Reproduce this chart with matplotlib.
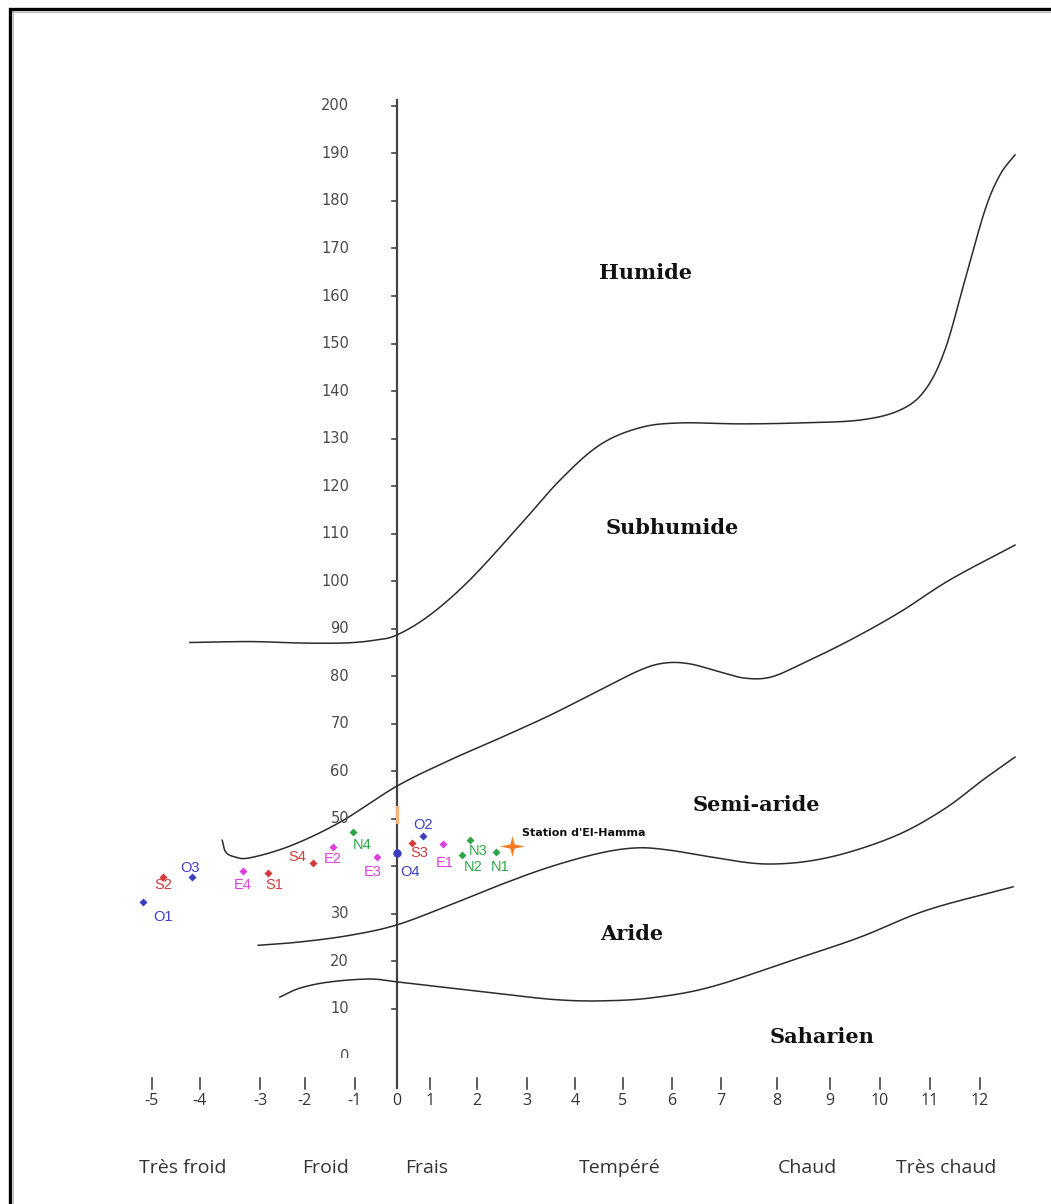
import numpy as np
import matplotlib
matplotlib.use('Agg')
import matplotlib.pyplot as plt
from matplotlib.transforms import blended_transform_factory, Bbox, TransformedBbox

# Emberger climagram: m (mean min temp of coldest month, °C) vs Q2
m_ticks = list(range(-5, 13))
# the m axis is hand ruled, so tick spacing is not uniform (pixel position of each tick)
m_tick_px = [152, 200, 260, 305, 355, 397, 430, 477, 527, 575, 623, 672, 721, 777, 830, 880, 930, 980]
q2_ticks = list(range(0, 201, 10))
q2_labels = ['' if v == 40 else str(v) for v in q2_ticks]

# sampling points
pt_names = ['O1', 'S2', 'O3', 'E4', 'S1', 'S4', 'E2', 'N4', 'E3', 'O4', 'S3', 'O2', 'E1', 'N2', 'N3', 'N1']
pt_m = [-5.19, -4.77, -4.17, -3.28, -2.82, -1.84, -1.44, -1.04, -0.48, 0.0, 0.45, 0.79, 1.28, 1.68, 1.85, 2.38]
pt_q2 = [32.5, 37.8, 37.8, 39.0, 38.6, 40.7, 44.1, 47.2, 42.0, 42.8, 44.9, 46.4, 44.7, 42.4, 45.6, 43.1]

station_name = "Station d'El-Hamma"
station_m = 2.70
station_q2 = 44.3

# bioclimatic limits
lim1_m = [-4.21, -3.17, -2.11, -1.2, -0.52, 0.0, 1.0, 1.85, 2.86, 3.69, 4.52, 5.35, 6.16, 7.34, 8.43, 9.6, 10.4, 10.9, 11.3, 11.7, 12.1, 12.4, 12.7]
lim1_q2 = [87.1, 87.3, 87.0, 87.0, 87.6, 88.7, 92.9, 100.3, 111.8, 121.3, 128.7, 132.3, 133.3, 133.1, 133.3, 133.9, 136.0, 140.2, 148.7, 163.4, 178.1, 185.5, 189.7]

lim2_m = [-3.63, -3.57, -3.42, -3.17, -2.33, -1.3, 0.0, 1.43, 2.46, 3.48, 4.52, 5.35, 5.86, 6.37, 6.98, 7.43, 7.88, 8.43, 9.4, 10.4, 11.4, 12.7]
lim2_q2 = [45.5, 43.0, 42.0, 41.8, 44.3, 49.3, 56.9, 62.4, 67.0, 71.8, 77.1, 81.3, 82.8, 82.6, 80.9, 79.6, 79.8, 82.4, 87.6, 93.5, 100.3, 107.6]

lim3_m = [-3.03, -2.11, -1.1, 0.0, 1.43, 2.46, 3.48, 4.52, 5.29, 5.96, 6.78, 7.82, 8.94, 10.26, 11.26, 12.06, 12.7]
lim3_q2 = [23.4, 24.1, 25.5, 27.7, 31.9, 36.1, 39.9, 42.8, 43.9, 43.4, 42.0, 40.5, 41.8, 46.2, 51.9, 58.2, 63.0]

lim4_m = [-2.56, -2.11, -1.5, -0.64, 0.0, 1.43, 2.86, 3.69, 4.52, 5.55, 6.78, 8.3, 9.6, 10.94, 12.66]
lim4_q2 = [12.5, 14.4, 15.7, 16.3, 15.7, 14.4, 12.7, 11.9, 11.7, 12.3, 14.6, 20.3, 25.1, 30.8, 35.7]

zones = ['Humide', 'Subhumide', 'Semi-aride', 'Aride', 'Saharien']
zone_m = [5.45, 6.0, 7.64, 5.18, 8.85]
zone_q2 = [164.8, 111.2, 52.9, 25.8, 4.1]

winters = ['Très froid', 'Froid', 'Frais', 'Tempéré', 'Chaud', 'Très chaud']
winter_m = [-4.35, -1.58, 0.91, 4.94, 8.57, 11.32]

colors = {'O': '#3d3dc4', 'S': '#d63a3a', 'E': '#e03fe0', 'N': '#2fa64a'}
# label offsets in pixels (dx, dy), dy positive upward
offsets = {'O1': (20, -15), 'S2': (0, -8), 'O3': (-2, 9), 'E4': (-1, -14), 'S1': (6, -12),
           'S4': (-16, 6), 'E2': (0, -12), 'N4': (9, -13), 'E3': (-4, -15), 'O4': (13, -19),
           'S3': (7, -10), 'O2': (0, 11), 'E1': (2, -19), 'N2': (11, -12), 'N3': (8, -11),
           'N1': (4, -15)}

W, H = 1051, 1204
Y_PX = 4.753  # pixels per Q2 unit


def fwd(v):
    v = np.asarray(v, dtype=float)
    out = np.interp(v, m_ticks, m_tick_px)
    out = np.where(v < m_ticks[0], m_tick_px[0] + (v - m_ticks[0]) * (m_tick_px[1] - m_tick_px[0]), out)
    out = np.where(v > m_ticks[-1], m_tick_px[-1] + (v - m_ticks[-1]) * (m_tick_px[-1] - m_tick_px[-2]), out)
    return out


def inv(p):
    p = np.asarray(p, dtype=float)
    out = np.interp(p, m_tick_px, m_ticks)
    out = np.where(p < m_tick_px[0], m_ticks[0] + (p - m_tick_px[0]) / (m_tick_px[1] - m_tick_px[0]), out)
    out = np.where(p > m_tick_px[-1], m_ticks[-1] + (p - m_tick_px[-1]) / (m_tick_px[-1] - m_tick_px[-2]), out)
    return out


def smooth(xs, ys, n=24):
    # Catmull-Rom through the points, done in screen-like units
    pts = np.column_stack([fwd(xs), np.asarray(ys) * Y_PX])
    p = np.vstack([2 * pts[0] - pts[1], pts, 2 * pts[-1] - pts[-2]])
    t = np.linspace(0, 1, n, endpoint=False)[:, None]
    segs = []
    for i in range(1, len(p) - 2):
        p0, p1, p2, p3 = p[i - 1], p[i], p[i + 1], p[i + 2]
        segs.append(0.5 * (2 * p1 + (p2 - p0) * t + (2 * p0 - 5 * p1 + 4 * p2 - p3) * t ** 2
                           + (3 * p1 - p0 - 3 * p2 + p3) * t ** 3))
    segs.append(pts[-1:])
    out = np.vstack(segs)
    return inv(out[:, 0]), out[:, 1] / Y_PX


fig = plt.figure(figsize=(W / 100, H / 100), dpi=100)
ax = fig.add_axes([0, 0, 1, 1])
ax.set_xscale('function', functions=(fwd, inv))
ax.set_xlim(float(inv(0)), float(inv(W)))
ax.set_ylim(-31.03, 222.28)
ax.axis('off')

# frame (top and left edges only)
ft = fig.transFigure
fig.add_artist(plt.Line2D([12.5 / W, 12.5 / W], [0, 1 - 11 / H], color='#bbbbbb', lw=0.8, transform=ft))
fig.add_artist(plt.Line2D([12 / W, 1], [1 - 11.5 / H, 1 - 11.5 / H], color='#bbbbbb', lw=0.8, transform=ft))
fig.add_artist(plt.Line2D([9.5 / W, 9.5 / W, 1], [0, 1 - 8.5 / H, 1 - 8.5 / H], color='black', lw=2.4,
                          solid_joinstyle='miter', transform=ft))

# Q2 axis
ax.plot([0, 0], [-6.6, 201.2], color='#444444', lw=1.6)
for v in q2_ticks:
    if v > 0:
        ax.plot([-0.12, 0], [v, v], color='#444444', lw=1.2)
ytr = blended_transform_factory(ax.transAxes, ax.transData)
for v, lab in zip(q2_ticks, q2_labels):
    if not lab:
        continue
    t = ax.text(349 / W, v, lab, transform=ytr, ha='right', va='center', fontsize=10.5,
                color='#4a4a4a', family='DejaVu Sans')
    if v == 0:
        # bottom of the zero is hidden behind the m axis row
        t.set_clip_on(True)
        t.set_clip_box(TransformedBbox(Bbox([[0, 1 - 1058 / H], [1, 1]]), ax.transAxes))

# m axis (ticks only)
xtr = blended_transform_factory(ax.transData, ax.transAxes)
for v in m_ticks:
    if v != 0:
        ax.plot([v, v], [1 - 1078 / H, 1 - 1089 / H], transform=xtr, color='#333333', lw=1.1)
    ax.text(v, 1 - 1101 / H, str(v), transform=xtr, ha='center', va='center',
            fontsize=11.5, color='#333333', family='Open Sans')
for name, v in zip(winters, winter_m):
    ax.text(v, 1 - 1168 / H, name, transform=xtr, ha='center', va='center',
            fontsize=14, color='#333333', family='Open Sans')

# limits between bioclimatic stages
for xs, ys in [(lim1_m, lim1_q2), (lim2_m, lim2_q2), (lim3_m, lim3_q2), (lim4_m, lim4_q2)]:
    sx, sy = smooth(xs, ys)
    ax.plot(sx, sy, color='#2b2b2b', lw=1.1)

for name, x, y in zip(zones, zone_m, zone_q2):
    ax.text(x, y, name, ha='center', va='center', fontsize=15, fontweight='bold',
            family='DejaVu Serif', color='#111111')

# sampling points
for name, x, y in zip(pt_names, pt_m, pt_q2):
    c = colors[name[0]]
    if name == 'O4':
        ax.plot(x, y, 'o', color=c, ms=6, mec='none')
    else:
        ax.plot(x, y, 'D', color=c, ms=4.2, mec='none')
    ax.annotate(name, (x, y), xytext=offsets[name], textcoords='offset pixels',
                ha='center', va='center', fontsize=10.5, color=c, family='Liberation Sans')

# faint orange mark on the Q2 axis
ax.plot([0, 0], [49.4, 52.6], color='#f5b27a', lw=2.2)

# El-Hamma station
star = [(0, 1), (0.2, 0.2), (1.2, 0), (0.2, -0.2), (0, -1), (-0.2, -0.2), (-1.2, 0), (-0.2, 0.2), (0, 1)]
ax.plot(station_m, station_q2, marker=star, color='#f47b22', ms=18, mec='none', ls='none')
ax.annotate(station_name, (station_m, station_q2), xytext=(10, 13), textcoords='offset pixels',
            ha='left', va='center', fontsize=8, fontweight='bold', color='#111111', family='DejaVu Sans')

fig.savefig('out.png', dpi=100)
